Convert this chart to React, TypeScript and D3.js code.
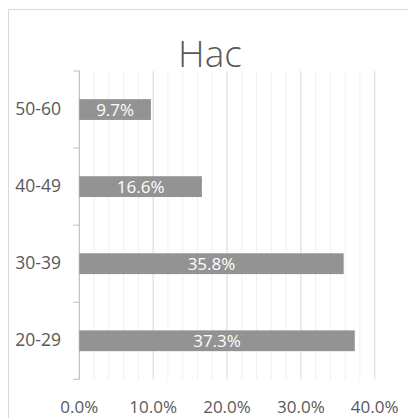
import React from "react";
import * as d3 from "d3";

const categories = ["50-60", "40-49", "30-39", "20-29"];
const values = [9.7, 16.6, 35.8, 37.3];
const xTicks = [0, 10, 20, 30, 40];
const title = "Hac";

export default function App() {
  const W = 408, H = 418;
  const left = 79.3, right = 374.7, top = 71, bottom = 379.3;
  const x = d3.scaleLinear().domain([0, 40]).range([left, right]);
  const y = d3.scaleBand().domain(categories).range([top, bottom]).paddingInner(0.73).paddingOuter(0.365);
  const minor = d3.range(0, 41, 2);
  const font = "'Open Sans', sans-serif";
  const boundaries = d3.range(0, categories.length + 1).map(i => top + (i * (bottom - top)) / categories.length);
  return (
    <svg width={W} height={H} style={{ position: "absolute", left: 0, top: 0, background: "#fff" }}>
      <rect x={8.5} y={9.5} width={W} height={H} fill="#fff" stroke="#d9d9d9" strokeWidth={1} />
      <text x={210} y={66.5} textAnchor="middle" fontFamily={font} fontSize={37} fontWeight={300} fill="#595959">{title}</text>
      {minor.map(v => (
        <line key={"g" + v} x1={x(v)} x2={x(v)} y1={top} y2={bottom}
          stroke={v % 10 === 0 ? "#d9d9d9" : "#f0f0f0"} strokeWidth={1} />
      ))}
      <line x1={left} x2={left} y1={top} y2={bottom} stroke="#bfbfbf" strokeWidth={1} />
      {boundaries.map((b, i) => (
        <line key={"t" + i} x1={left - 6} x2={left} y1={b} y2={b} stroke="#bfbfbf" strokeWidth={1} />
      ))}
      {categories.map((c, i) => (
        <g key={c}>
          <rect x={x(0)} y={y(c)!} width={x(values[i]) - x(0)} height={y.bandwidth()} fill="#939393" />
          <text x={(x(0) + x(values[i])) / 2} y={y(c)! + y.bandwidth() / 2} dy="0.36em" textAnchor="middle"
            fontFamily={font} fontSize={17} fill="#fff">{values[i].toFixed(1) + "%"}</text>
          <text x={61} y={y(c)! + y.bandwidth() / 2 - 1} dy="0.36em" textAnchor="end"
            fontFamily={font} fontSize={17.5} fill="#595959">{c}</text>
        </g>
      ))}
      {xTicks.map(v => (
        <text key={"x" + v} x={x(v)} y={413} textAnchor="middle" fontFamily={font} fontSize={17} fill="#595959">
          {v.toFixed(1) + "%"}
        </text>
      ))}
    </svg>
  );
}
